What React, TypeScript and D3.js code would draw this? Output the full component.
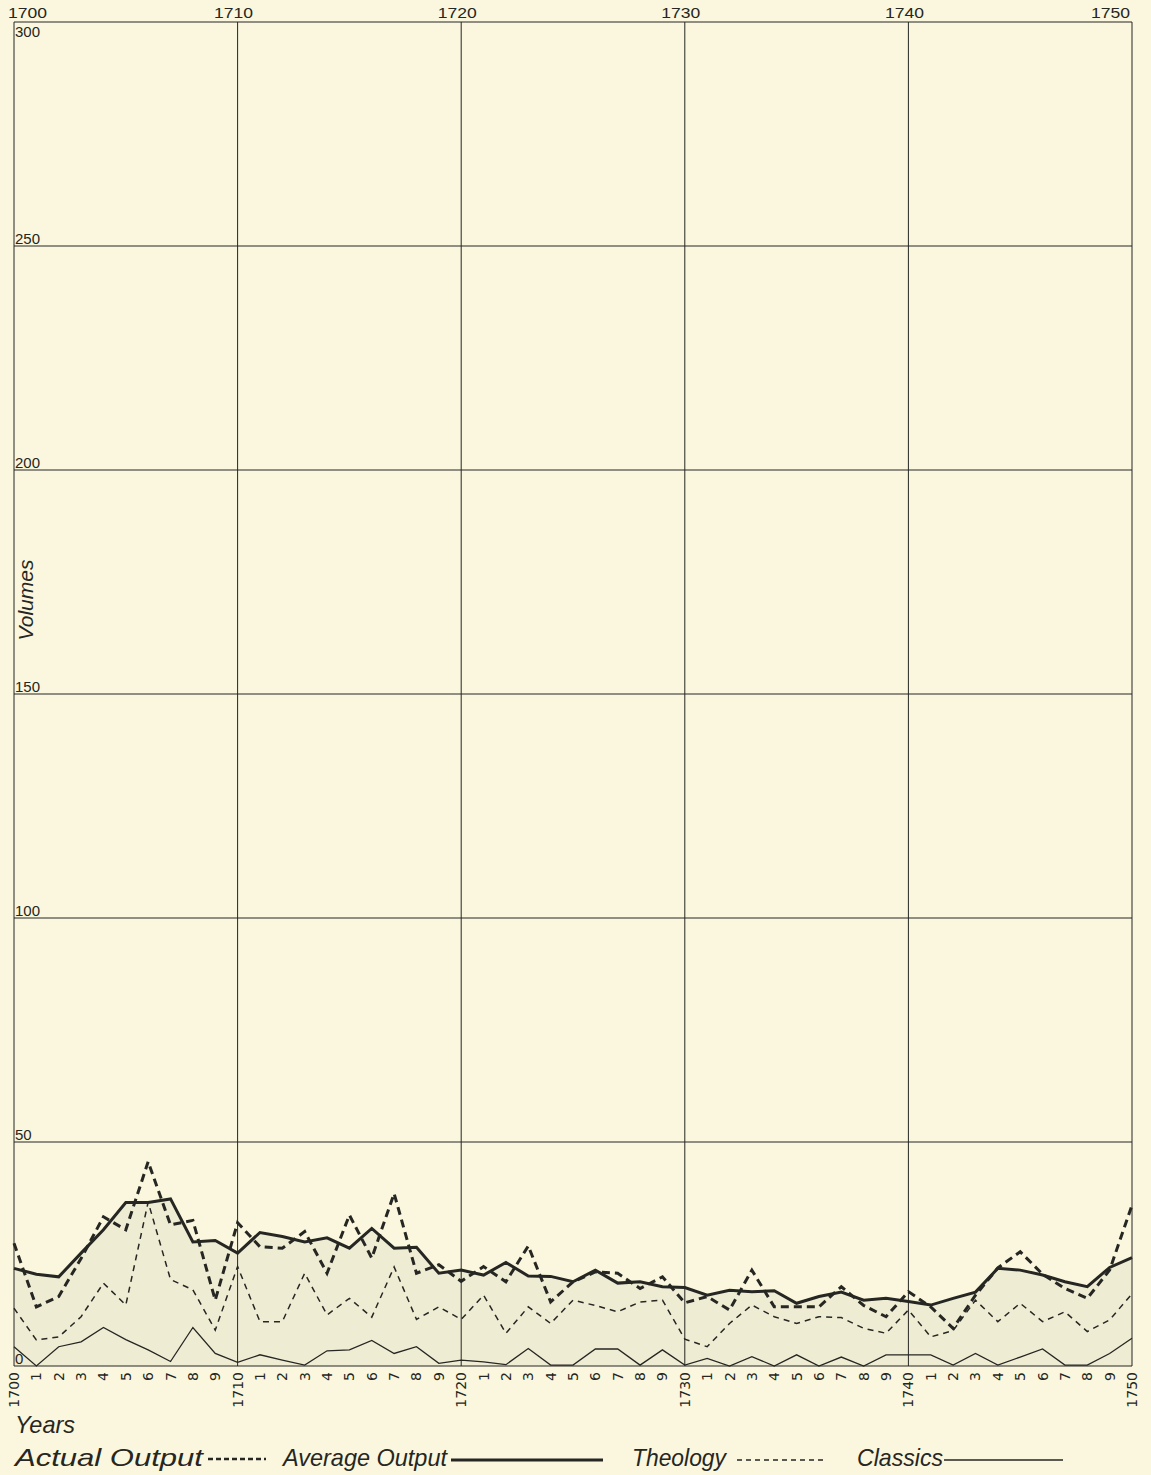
import React from "react";
import * as d3 from "d3";

const years: number[] = d3.range(1700, 1751);
const decadeLabels: number[] = [1700, 1710, 1720, 1730, 1740, 1750];
const volumeTicks: number[] = [0, 50, 100, 150, 200, 250, 300];

const actualOutput: number[] = [
  27.4, 13.2, 15.5, 24, 33.3, 30.4, 45.6, 31.5, 32.5, 14.7,
  32, 26.6, 26.3, 30, 20.7, 33.7, 24.1, 38.5, 20.7, 22.6,
  18.9, 22.2, 18.8, 26.8, 14.3, 18.8, 21, 20.7, 17.3, 19.9,
  14.1, 15.5, 12.5, 21.4, 13.2, 13.2, 13.2, 17.7, 13.5, 11,
  16.6, 13.2, 8.4, 15.8, 21.9, 25.5, 20.5, 17.3, 15.1, 21.4, 35.9,
];
const averageOutput: number[] = [
  21.8, 20.5, 19.9, 25.2, 30.4, 36.5, 36.5, 37.3, 27.7, 28,
  25.2, 29.8, 28.9, 27.7, 28.6, 26.3, 30.7, 26.3, 26.5, 20.7,
  21.4, 20.3, 23.1, 20.1, 20, 18.8, 21.4, 18.5, 18.8, 17.7,
  17.5, 15.8, 16.9, 16.6, 16.8, 14, 15.5, 16.5, 14.7, 15.1,
  14.4, 13.6, 15.1, 16.5, 21.8, 21.4, 20.3, 18.8, 17.7, 22, 24.2,
];
const theology: number[] = [
  12.9, 5.8, 6.5, 11, 18.5, 13.6, 36.6, 19.3, 17, 8,
  22.2, 9.9, 9.9, 20.7, 11.4, 15.1, 10.9, 22.1, 10.4, 13.2,
  10.4, 15.8, 7.3, 13.2, 9.5, 14.7, 13.5, 12.1, 14.3, 14.7,
  6, 4.3, 9.5, 13.6, 11, 9.5, 11, 10.8, 8.4, 7.3,
  12.5, 6.5, 7.9, 14.7, 9.9, 14, 9.9, 12.1, 7.7, 10.3, 16.1,
];
const classics: number[] = [
  4.3, 0, 4.3, 5.4, 8.6, 5.9, 3.6, 1, 8.6, 2.8,
  0.8, 2.5, 1.3, 0.2, 3.4, 3.6, 5.7, 2.8, 4.3, 0.6,
  1.3, 0.9, 0.3, 3.9, 0.2, 0.2, 3.8, 3.8, 0.2, 3.6,
  0.2, 1.7, 0, 2.1, 0, 2.5, 0, 2, 0, 2.5,
  2.5, 2.5, 0.2, 2.8, 0.2, 2, 3.8, 0.2, 0.2, 2.8, 6.2,
];

const W = 1151;
const H = 1475;
const BG = "#faf7de";
const INK = "#262622";

export default function App() {
  const x = d3.scaleLinear().domain([1700, 1750]).range([14, 1132]);
  const y = d3.scaleLinear().domain([0, 300]).range([1366, 22]);

  const mk = (vals: number[]) =>
    d3
      .line<number>()
      .x((_, i) => x(years[i]))
      .y((d) => y(d))(vals) as string;

  const area = d3
    .area<number>()
    .x((_, i) => x(years[i]))
    .y0(y(0))
    .y1((d) => y(d))(averageOutput) as string;

  const sans = "'DejaVu Sans', sans-serif";
  const lib = "'Liberation Sans', sans-serif";
  const ital = "'Liberation Sans', sans-serif";

  const legendText = (label: string, lx: number, len: number) => (
    <text
      x={lx}
      y={1466}
      fontFamily={ital}
      fontStyle="italic"
      fontSize={24}
      textLength={len}
      lengthAdjust="spacingAndGlyphs"
      fill={INK}
    >
      {label}
    </text>
  );

  return (
    <svg
      width={W}
      height={H}
      style={{ position: "absolute", left: 0, top: 0, background: BG }}
    >
      <rect x={0} y={0} width={W} height={H} fill={BG} />
      <path d={area} fill="#000" fillOpacity={0.045} />

      {decadeLabels.map((yr) => (
        <line
          key={"v" + yr}
          x1={x(yr)}
          x2={x(yr)}
          y1={y(300)}
          y2={y(0)}
          stroke={INK}
          strokeWidth={1}
        />
      ))}
      {volumeTicks.map((v) => (
        <line
          key={"h" + v}
          x1={x(1700)}
          x2={x(1750)}
          y1={y(v)}
          y2={y(v)}
          stroke={INK}
          strokeWidth={v === 0 || v === 300 ? 1.2 : 1}
        />
      ))}

      {decadeLabels.map((yr, i) => (
        <text
          key={"t" + yr}
          x={i === 0 ? 8 : i === decadeLabels.length - 1 ? 1130 : x(yr) - 4}
          y={18}
          fontFamily={lib}
          fontSize={14}
          textAnchor={i === 0 ? "start" : i === decadeLabels.length - 1 ? "end" : "middle"}
          textLength={39}
          lengthAdjust="spacingAndGlyphs"
          fill={INK}
        >
          {yr}
        </text>
      ))}

      {volumeTicks.map((v) => (
        <text
          key={"yl" + v}
          x={15}
          y={v === 300 ? y(v) + 15 : y(v) - 2}
          fontFamily={lib}
          fontSize={15}
          fill={INK}
        >
          {v}
        </text>
      ))}

      {years.map((yr) => {
        const lbl = yr % 10 === 0 ? String(yr) : String(yr % 10);
        const cx = x(yr) + 5;
        return (
          <text
            key={"b" + yr}
            transform={`translate(${cx},1372) rotate(-90)`}
            fontFamily={sans}
            fontSize={14}
            textAnchor="end"
            fill={INK}
          >
            {lbl}
          </text>
        );
      })}

      <path d={mk(classics)} fill="none" stroke={INK} strokeWidth={1.3} />
      <path
        d={mk(theology)}
        fill="none"
        stroke={INK}
        strokeWidth={1.5}
        strokeDasharray="6,5"
      />
      <path d={mk(averageOutput)} fill="none" stroke={INK} strokeWidth={3} />
      <path
        d={mk(actualOutput)}
        fill="none"
        stroke={INK}
        strokeWidth={3}
        strokeDasharray="8,5"
      />

      <text
        transform="translate(33,600) rotate(-90)"
        fontFamily={ital}
        fontStyle="italic"
        fontSize={21}
        textAnchor="middle"
        fill={INK}
      >
        Volumes
      </text>
      <text
        x={15}
        y={1433}
        fontFamily={ital}
        fontStyle="italic"
        fontSize={24}
        textLength={60}
        lengthAdjust="spacingAndGlyphs"
        fill={INK}
      >
        Years
      </text>

      {legendText("Actual Output", 15, 188)}
      <line x1={208} x2={266} y1={1459} y2={1459} stroke={INK} strokeWidth={2.5} strokeDasharray="5,3" />
      {legendText("Average Output", 283, 164)}
      <line x1={451} x2={603} y1={1460} y2={1460} stroke={INK} strokeWidth={3} />
      {legendText("Theology", 632, 94)}
      <line x1={737} x2={827} y1={1460} y2={1460} stroke={INK} strokeWidth={1.3} strokeDasharray="5,4" />
      {legendText("Classics", 857, 86)}
      <line x1={944} x2={1063} y1={1460} y2={1460} stroke={INK} strokeWidth={1.5} />
    </svg>
  );
}
